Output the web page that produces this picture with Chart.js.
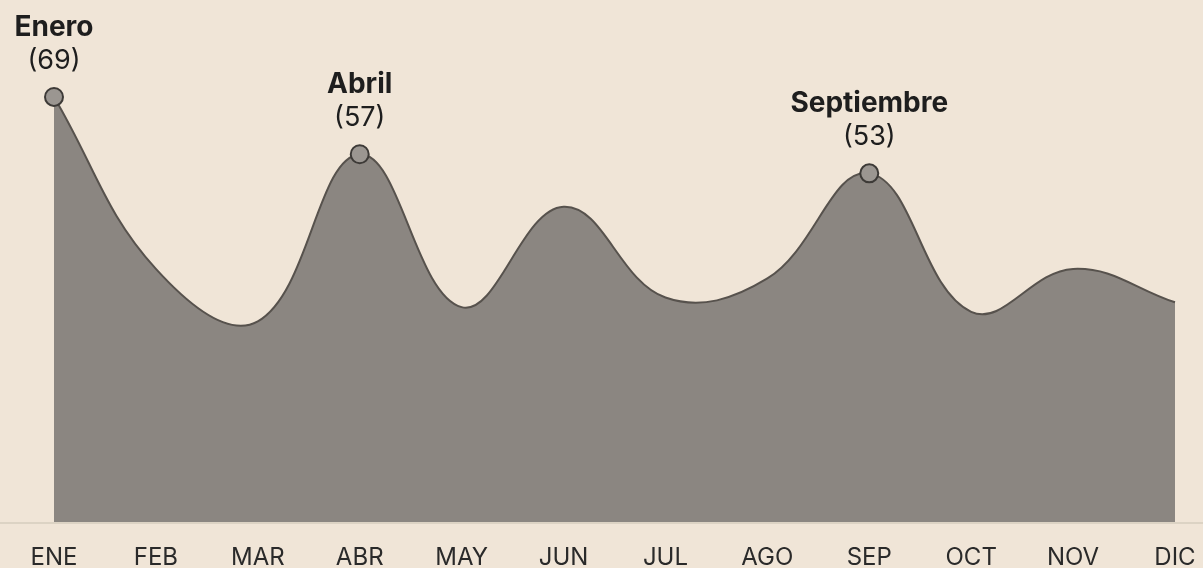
<!DOCTYPE html>
<html>
<head>
<meta charset="utf-8">
<script src="https://cdn.jsdelivr.net/npm/chart.js@4"></script>
<style>
  html, body { margin: 0; padding: 0; background: #f0e5d7; }
  #wrap { width: 1203px; height: 568px; position: relative; }
</style>
</head>
<body>
<div id="wrap"><canvas id="c" width="1203" height="568"></canvas></div>
<script>
const categories = ['ENE', 'FEB', 'MAR', 'ABR', 'MAY', 'JUN', 'JUL', 'AGO', 'SEP', 'OCT', 'NOV', 'DIC'];
const values = [69, 33, 22, 57, 25, 46, 27, 31, 53, 24, 33, 26];
const highlightNames = ['Enero', null, null, 'Abril', null, null, null, null, 'Septiembre', null, null, null];

const FONT = 'Inter, Roboto, "Liberation Sans", Arial, sans-serif';

const baselinePlugin = {
  id: 'baseline',
  beforeDatasetsDraw(chart) {
    const ctx = chart.ctx;
    const y = chart.chartArea.bottom + 1;
    ctx.save();
    ctx.strokeStyle = '#d6ccbe';
    ctx.lineWidth = 1.5;
    ctx.beginPath();
    ctx.moveTo(0, y);
    ctx.lineTo(chart.width, y);
    ctx.stroke();
    ctx.restore();
  }
};

const labelPlugin = {
  id: 'peakLabels',
  afterDatasetsDraw(chart) {
    const ctx = chart.ctx;
    const meta = chart.getDatasetMeta(0);
    ctx.save();
    ctx.fillStyle = '#1e1e1e';
    ctx.textAlign = 'center';
    ctx.textBaseline = 'alphabetic';
    meta.data.forEach((pt, i) => {
      const name = highlightNames[i];
      if (!name) return;
      ctx.font = 'bold 28px ' + FONT;
      ctx.fillText(name, pt.x, pt.y - 61);
      ctx.font = '27px ' + FONT;
      ctx.fillText('(' + values[i] + ')', pt.x, pt.y - 28);
    });
    ctx.restore();
  }
};

new Chart(document.getElementById('c'), {
  type: 'line',
  data: {
    labels: categories,
    datasets: [{
      data: values,
      fill: 'start',
      backgroundColor: '#8b8681',
      borderColor: '#57524d',
      borderWidth: 2,
      tension: 0.4,
      clip: false,
      pointRadius: highlightNames.map(n => n ? 9 : 0),
      pointBackgroundColor: '#9b9691',
      pointBorderColor: '#3d3a37',
      pointBorderWidth: 2,
      pointHoverRadius: highlightNames.map(n => n ? 9 : 0)
    }]
  },
  options: {
    responsive: false,
    animation: false,
    events: [],
    layout: { padding: { left: 54, right: 28, top: 11, bottom: 0 } },
    plugins: { legend: { display: false }, tooltip: { enabled: false } },
    scales: {
      x: {
        offset: false,
        grid: { display: false, drawTicks: false },
        border: { display: false },
        ticks: { color: '#2a2a2a', font: { family: FONT, size: 24 }, padding: 21, maxRotation: 0, autoSkip: false },
        afterFit(s) { s.height = 46; s.paddingLeft = 0; s.paddingRight = 0; }
      },
      y: {
        display: false,
        min: -20,
        max: 87
      }
    }
  },
  plugins: [baselinePlugin, labelPlugin]
});
</script>
</body>
</html>
